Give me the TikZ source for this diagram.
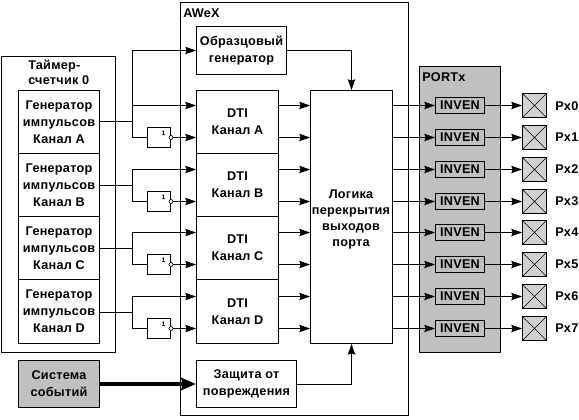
\documentclass[tikz,border=0pt]{standalone}
\usepackage{fontspec}
\setmainfont[LetterSpace=2]{Liberation Sans}
\usepackage{tikz}
\usetikzlibrary{arrows.meta,positioning,calc}

\definecolor{panelgray}{HTML}{C0C0C0}
\definecolor{padgray}{HTML}{D0D0D0}

\tikzset{
  lbl/.style={font=\fontsize{9.5}{12.75}\bfseries\selectfont,align=center,inner sep=0pt},
  box/.style={draw,line width=0.75pt,inner sep=0pt,lbl},
  genbox/.style={box,minimum width=60.75pt,minimum height=47.25pt},
  dtibox/.style={box,minimum width=61.5pt,minimum height=47.25pt},
  invbox/.style={draw,line width=0.75pt,minimum width=17.25pt,minimum height=15pt,inner sep=0pt},
  bubble/.style={draw,circle,fill=white,line width=0.5pt,minimum size=3pt,inner sep=0pt},
  one/.style={font=\fontsize{5}{5}\bfseries\selectfont,inner sep=0pt},
  invenbox/.style={box,fill=panelgray,minimum width=36.75pt,minimum height=12pt},
  pad/.style={draw,line width=0.75pt,fill=padgray,minimum size=18pt,inner sep=0pt},
  sig/.style={line width=0.75pt,-{Stealth[length=8pt,width=5.5pt,inset=1pt]}},
  wire/.style={line width=0.75pt}
}

\begin{document}
\begin{tikzpicture}[x=0.75pt,y=-0.75pt]
\useasboundingbox (0,0) rectangle (579,419);

% outer blocks
\node (T) [box,minimum width=85.5pt,minimum height=222pt] at (58.5,204.5) {};
\node (TT) [lbl,anchor=west,align=left] at (28,72.5) {Таймер-\\[-2pt]счетчик 0};
\node (AW) [box,minimum width=171pt,minimum height=309.75pt] at (294.5,209) {};
\node (AWT) [lbl,anchor=west] at (183,13) {AWeX};
\node (PT) [box,fill=panelgray,minimum width=60.75pt,minimum height=214.5pt] at (460,209.5) {};
\node (PTT) [lbl,anchor=west] at (422,77) {PORTx};

% left column
\node (GA) [genbox] at (59,122) {Генератор\\импульсов\\Канал A};
\node (GB) [genbox] at (59,185) {Генератор\\импульсов\\Канал B};
\node (GC) [genbox] at (59,248) {Генератор\\импульсов\\Канал C};
\node (GD) [genbox,minimum height=48pt] at (59,311.5) {Генератор\\импульсов\\Канал D};
\node (S) [box,fill=panelgray,minimum width=60.75pt,minimum height=35.25pt] at (59,384) {Система\\событий};

% inside AWeX
\node (W) [box,minimum width=67.5pt,minimum height=36pt] at (241.5,50.5) {Образцовый\\генератор};
\node (DA) [dtibox] at (237.5,122) {DTI\\Канал A};
\node (DB) [dtibox] at (237.5,185) {DTI\\Канал B};
\node (DC) [dtibox] at (237.5,248) {DTI\\Канал C};
\node (DD) [dtibox,minimum height=48pt] at (237.5,311.5) {DTI\\Канал D};
\node (L) [box,minimum width=61.5pt,minimum height=189.75pt] at (351.5,217) {};
\node (LT) [lbl] at (351,219.5) {Логика\\[-0.75pt]перекрытия\\[-0.75pt]выходов\\[-0.75pt]порта};
\node (Z) [box,minimum width=75pt,minimum height=35.25pt] at (246.5,384) {Защита от\\повреждения};

% rows
\coordinate (r0) at (0,105.5);
\coordinate (r1) at (0,137.5);
\coordinate (r2) at (0,169.5);
\coordinate (r3) at (0,201.5);
\coordinate (r4) at (0,232.5);
\coordinate (r5) at (0,264.5);
\coordinate (r6) at (0,296.5);
\coordinate (r7) at (0,328.5);

% branch points
\coordinate (brA) at (132.5,121.5);
\coordinate (brB) at (132.5,185.5);
\coordinate (brC) at (132.5,248.5);
\coordinate (brD) at (132.5,312.5);

% inverters
\node (IA) [invbox] at (159,137.5) {};
\node (IB) [invbox] at (159,201.5) {};
\node (IC) [invbox] at (159,264.5) {};
\node (ID) [invbox] at (159,328.5) {};
\node (OA) [one] at (163.5,133) {1};
\node (OB) [one] at (163.5,197) {1};
\node (OC) [one] at (163.5,260) {1};
\node (OD) [one] at (163.5,324) {1};
\node (BA) [bubble] at (IA.east) {};
\node (BB) [bubble] at (IB.east) {};
\node (BC) [bubble] at (IC.east) {};
\node (BD) [bubble] at (ID.east) {};

% generators to DTI
\draw[wire] (GA.east |- brA) -- (brA);
\draw[wire] (GB.east |- brB) -- (brB);
\draw[wire] (GC.east |- brC) -- (brC);
\draw[wire] (GD.east |- brD) -- (brD);
\draw[sig] (brA) |- (W.west);
\draw[sig] (brA) |- (DA.west |- r0);
\draw[sig] (brB) |- (DB.west |- r2);
\draw[sig] (brC) |- (DC.west |- r4);
\draw[sig] (brD) |- (DD.west |- r6);
\draw[wire] (brA) |- (IA.west);
\draw[wire] (brB) |- (IB.west);
\draw[wire] (brC) |- (IC.west);
\draw[wire] (brD) |- (ID.west);
\draw[sig] (BA) -- (DA.west |- BA);
\draw[sig] (BB) -- (DB.west |- BB);
\draw[sig] (BC) -- (DC.west |- BC);
\draw[sig] (BD) -- (DD.west |- BD);
\draw[line width=3pt,-{Stealth[length=11pt,width=9pt,inset=1pt]}] (S.east) -- (Z.west);

% DTI to logic
\draw[sig] (DA.east |- r0) -- (L.west |- r0);
\draw[sig] (DA.east |- r1) -- (L.west |- r1);
\draw[sig] (DB.east |- r2) -- (L.west |- r2);
\draw[sig] (DB.east |- r3) -- (L.west |- r3);
\draw[sig] (DC.east |- r4) -- (L.west |- r4);
\draw[sig] (DC.east |- r5) -- (L.west |- r5);
\draw[sig] (DD.east |- r6) -- (L.west |- r6);
\draw[sig] (DD.east |- r7) -- (L.west |- r7);
\draw[sig] (W.east) -| (L.north);
\draw[sig] (Z.east) -| (L.south);

% INVEN
\node (V0) [invenbox] at (460,105.5) {INVEN};
\node (V1) [invenbox] at (460,137.5) {INVEN};
\node (V2) [invenbox] at (460,169.5) {INVEN};
\node (V3) [invenbox] at (460,201.5) {INVEN};
\node (V4) [invenbox] at (460,232.5) {INVEN};
\node (V5) [invenbox] at (460,264.5) {INVEN};
\node (V6) [invenbox] at (460,296.5) {INVEN};
\node (V7) [invenbox] at (460,328.5) {INVEN};

% pads
\node (P0) [pad] at (534.5,105.5) {};
\node (P1) [pad] at (534.5,137.5) {};
\node (P2) [pad] at (534.5,169.5) {};
\node (P3) [pad] at (534.5,201.5) {};
\node (P4) [pad] at (534.5,232.5) {};
\node (P5) [pad] at (534.5,264.5) {};
\node (P6) [pad] at (534.5,296.5) {};
\node (P7) [pad] at (534.5,328.5) {};
\draw[line width=0.4pt] (P0.north west) -- (P0.south east) (P0.north east) -- (P0.south west);
\draw[line width=0.4pt] (P1.north west) -- (P1.south east) (P1.north east) -- (P1.south west);
\draw[line width=0.4pt] (P2.north west) -- (P2.south east) (P2.north east) -- (P2.south west);
\draw[line width=0.4pt] (P3.north west) -- (P3.south east) (P3.north east) -- (P3.south west);
\draw[line width=0.4pt] (P4.north west) -- (P4.south east) (P4.north east) -- (P4.south west);
\draw[line width=0.4pt] (P5.north west) -- (P5.south east) (P5.north east) -- (P5.south west);
\draw[line width=0.4pt] (P6.north west) -- (P6.south east) (P6.north east) -- (P6.south west);
\draw[line width=0.4pt] (P7.north west) -- (P7.south east) (P7.north east) -- (P7.south west);
\node (X0) [lbl,anchor=west] at (555,106) {Px0};
\node (X1) [lbl,anchor=west] at (555,137) {Px1};
\node (X2) [lbl,anchor=west] at (555,169) {Px2};
\node (X3) [lbl,anchor=west] at (555,201) {Px3};
\node (X4) [lbl,anchor=west] at (555,232) {Px4};
\node (X5) [lbl,anchor=west] at (555,264) {Px5};
\node (X6) [lbl,anchor=west] at (555,296) {Px6};
\node (X7) [lbl,anchor=west] at (555,328) {Px7};

% logic to INVEN and pads
\draw[sig] (L.east |- r0) -- (V0.west);
\draw[sig] (L.east |- r1) -- (V1.west);
\draw[sig] (L.east |- r2) -- (V2.west);
\draw[sig] (L.east |- r3) -- (V3.west);
\draw[sig] (L.east |- r4) -- (V4.west);
\draw[sig] (L.east |- r5) -- (V5.west);
\draw[sig] (L.east |- r6) -- (V6.west);
\draw[sig] (L.east |- r7) -- (V7.west);
\draw[sig] (V0.east) -- (P0.west);
\draw[sig] (V1.east) -- (P1.west);
\draw[sig] (V2.east) -- (P2.west);
\draw[sig] (V3.east) -- (P3.west);
\draw[sig] (V4.east) -- (P4.west);
\draw[sig] (V5.east) -- (P5.west);
\draw[sig] (V6.east) -- (P6.west);
\draw[sig] (V7.east) -- (P7.west);
\end{tikzpicture}
\end{document}
